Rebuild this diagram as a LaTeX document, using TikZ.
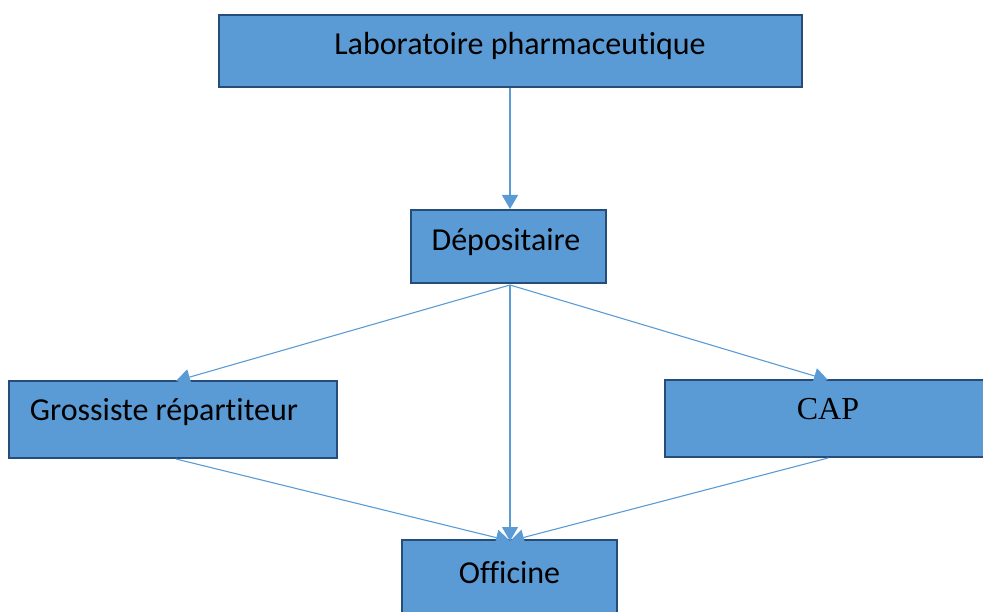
\documentclass[tikz,border=0pt]{standalone}
\usepackage{fontspec}
\setmainfont[RawFeature={-liga;-clig;-calt;-dlig}]{Carlito}
\newfontfamily\capfont{Liberation Serif}
\usetikzlibrary{arrows.meta}
\definecolor{boxfill}{HTML}{5B9BD5}
\definecolor{boxline}{HTML}{264D7A}
\definecolor{arrowc}{HTML}{5B9BD5}
\begin{document}
\begin{tikzpicture}[x=1pt,y=-1pt,
  box/.style={draw=boxline,fill=boxfill,line width=2.8pt,inner sep=0pt,anchor=center},
  lbl/.style={inner sep=0pt,anchor=center,font=\fontsize{32}{38}\selectfont},
  conn/.style={draw=arrowc,line width=1.1pt,-{Triangle[width=16pt,length=14pt]}}]
\useasboundingbox (0,0) rectangle (983,612);
\node[box,minimum width=583pt,minimum height=72pt] (lab) at (510.5,51) {};
\node[box,minimum width=195pt,minimum height=73pt] (dep) at (508.5,246.5) {};
\node[box,minimum width=328pt,minimum height=77pt] (gro) at (173,419.5) {};
\node[box,minimum width=326pt,minimum height=77pt] (cap) at (828,418.5) {};
\node[box,minimum width=215pt,minimum height=74pt] (off) at (509.5,577) {};
\node[lbl] (labt) at (520,46) {Laboratoire pharmaceutique};
\node[lbl] (dept) at (506,242) {Dépositaire};
\node[lbl] (grot) at (164,412) {Grossiste répartiteur};
\node[lbl,font=\capfont\fontsize{32}{38}\selectfont] (capt) at (828,409) {CAP};
\node[lbl] (offt) at (509.5,573) {Officine};
\coordinate (labB) at (510,88);
\coordinate (depT) at (510,209);
\coordinate (depB) at (510,285);
\coordinate (groT) at (176,381);
\coordinate (groB) at (176,459);
\coordinate (capT) at (828,380);
\coordinate (capB) at (828,458);
\coordinate (offT) at (510,541);
\draw[conn] (labB) -- (depT);
\draw[conn] (depB) -- (groT);
\draw[conn] (depB) -- (capT);
\draw[conn] (depB) -- (offT);
\draw[conn] (groB) -- (offT);
\draw[conn] (capB) -- (offT);
\end{tikzpicture}
\end{document}
